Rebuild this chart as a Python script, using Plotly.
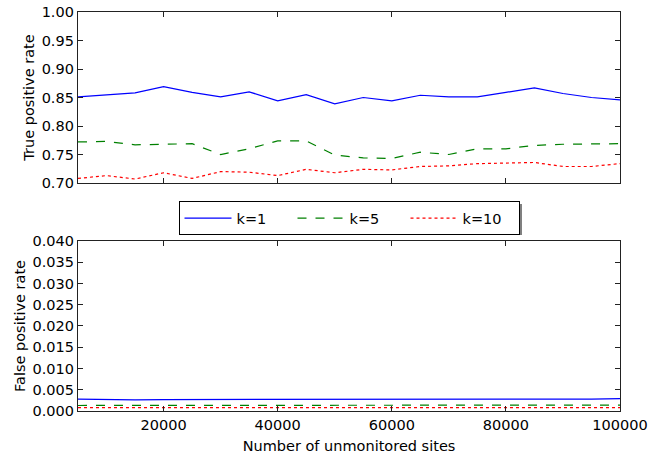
import plotly.graph_objects as go
from plotly.subplots import make_subplots

sites = [5000, 10000, 15000, 20000, 25000, 30000, 35000, 40000, 45000, 50000,
         55000, 60000, 65000, 70000, 75000, 80000, 85000, 90000, 95000, 100000]

tpr_k1 = [0.851, 0.854, 0.858, 0.869, 0.859, 0.851, 0.860, 0.844, 0.855, 0.839,
          0.850, 0.844, 0.854, 0.851, 0.851, 0.859, 0.867, 0.857, 0.850, 0.846]
tpr_k5 = [0.772, 0.773, 0.767, 0.768, 0.769, 0.750, 0.760, 0.774, 0.774, 0.749,
          0.744, 0.743, 0.754, 0.750, 0.760, 0.760, 0.766, 0.768, 0.769, 0.769]
tpr_k10 = [0.708, 0.713, 0.707, 0.718, 0.708, 0.720, 0.719, 0.713, 0.724, 0.718,
           0.724, 0.723, 0.729, 0.730, 0.734, 0.735, 0.736, 0.729, 0.729, 0.734]

fpr_k1 = [0.0028, 0.0027, 0.0026, 0.0027, 0.0027, 0.0028, 0.0028, 0.0028, 0.0027, 0.0027,
          0.0027, 0.0027, 0.0027, 0.0028, 0.0028, 0.0028, 0.0027, 0.0028, 0.0028, 0.0029]
fpr_k5 = [0.0013, 0.0013, 0.0013, 0.0014, 0.0014, 0.0014, 0.0014, 0.0014, 0.0014, 0.0013,
          0.0013, 0.0013, 0.0013, 0.0013, 0.0013, 0.0014, 0.0014, 0.0014, 0.0014, 0.0014]
fpr_k10 = [0.0008, 0.0008, 0.0008, 0.0008, 0.0008, 0.0008, 0.0008, 0.0008, 0.0008, 0.0008,
           0.0008, 0.0008, 0.0008, 0.0008, 0.0008, 0.0008, 0.0008, 0.0008, 0.0008, 0.0008]

labels = ["k=1", "k=5", "k=10"]
colors = ["#0000ff", "#008000", "#ff0000"]
dashes = ["solid", "dash", "dot"]

FS = 14.5

fig = make_subplots(rows=2, cols=1, shared_xaxes=False)

for i, (tp, fp) in enumerate([(tpr_k1, fpr_k1), (tpr_k5, fpr_k5), (tpr_k10, fpr_k10)]):
    fig.add_trace(go.Scatter(x=sites, y=tp, mode="lines", name=labels[i],
                             line=dict(color=colors[i], width=1.2, dash=dashes[i]),
                             showlegend=True), row=1, col=1)
    fig.add_trace(go.Scatter(x=sites, y=fp, mode="lines", name=labels[i],
                             line=dict(color=colors[i], width=1.2, dash=dashes[i]),
                             showlegend=False), row=2, col=1)

axis_common = dict(showline=True, linecolor="#222222", linewidth=1.3, mirror="allticks",
                   ticks="inside", ticklen=5, tickcolor="#222222", showgrid=False,
                   zeroline=False, automargin=False, ticklabeloverflow="allow",
                   tickfont=dict(size=FS, color="black"))

fig.update_xaxes(range=[5000, 100000], tickvals=[20000, 40000, 60000, 80000, 100000],
                 tickformat="d", **axis_common)
fig.update_xaxes(showticklabels=False, domain=[0, 1], row=1, col=1)
fig.update_xaxes(domain=[0, 1], row=2, col=1,
                 title=dict(text="Number of unmonitored sites", font=dict(size=FS, color="black"), standoff=9))
fig.update_yaxes(**axis_common)
fig.update_yaxes(range=[0.70, 1.00], dtick=0.05, tickformat=".2f", domain=[0.5714, 1.0],
                 title=dict(text="True positive rate", font=dict(size=FS, color="black"), standoff=3),
                 row=1, col=1)
fig.update_yaxes(range=[0.0, 0.040], dtick=0.005, tickformat=".3f", domain=[0.0, 0.4261],
                 title=dict(text="False positive rate", font=dict(size=FS, color="black"), standoff=3),
                 row=2, col=1)

# plot area in pixels: x 78..620, y 12..411
def px2paper(px, py):
    return (px - 78) / 542.0, (411 - py) / 399.0

x0, y0 = px2paper(183, 204)
x1, y1 = px2paper(522, 235)
fig.add_shape(type="rect", xref="paper", yref="paper", x0=x0, y0=y1, x1=x1, y1=y0,
              fillcolor="#808080", line=dict(width=0), layer="above")

fig.update_layout(
    width=670, height=454,
    margin=dict(l=78, r=50, t=12, b=43, autoexpand=False),
    paper_bgcolor="white", plot_bgcolor="white",
    font=dict(family="DejaVu Sans", size=FS, color="black"),
    legend=dict(orientation="h", x=0.5, xanchor="center", y=0.526, yanchor="top",
                bgcolor="white", bordercolor="black", borderwidth=1,
                itemwidth=47, entrywidth=51, font=dict(size=FS)),
)

fig.write_html("out.html", config={"displayModeBar": False},
               post_script="document.body.style.margin='0';")
